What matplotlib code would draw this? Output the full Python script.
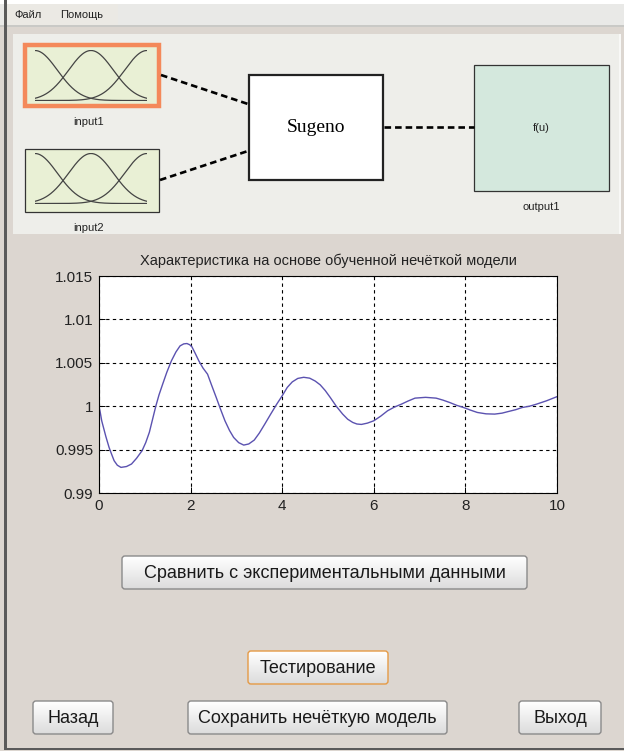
import numpy as np
import matplotlib
matplotlib.use("Agg")
import matplotlib.pyplot as plt
from matplotlib.patches import Rectangle, FancyBboxPatch

plt.rcParams['font.family'] = ['Liberation Sans', 'DejaVu Sans']

# curve
x_vals = [0, 0.03, 0.06, 0.1, 0.15, 0.22, 0.28, 0.33, 0.4, 0.48, 0.6, 0.71,
          0.82, 0.94, 1.02, 1.1, 1.17, 1.24, 1.31, 1.39, 1.48, 1.58, 1.68,
          1.77, 1.85, 1.92, 1.98, 2.03, 2.1, 2.18, 2.27, 2.37, 2.46, 2.56,
          2.65, 2.75, 2.85, 2.94, 3.05, 3.16, 3.27, 3.39, 3.5, 3.62, 3.75,
          3.88, 4.0, 4.11, 4.22, 4.34, 4.47, 4.6, 4.72, 4.83, 4.94, 5.05,
          5.18, 5.32, 5.43, 5.54, 5.63, 5.73, 5.86, 6.0, 6.15, 6.3, 6.45,
          6.6, 6.75, 6.9, 7.13, 7.36, 7.51, 7.66, 7.81, 7.96, 8.11, 8.26,
          8.45, 8.64, 8.8, 8.94, 9.1, 9.24, 9.4, 9.55, 9.77, 10]
y_vals = [1.0, 0.9992, 0.9983, 0.9975, 0.9965, 0.99525, 0.9944, 0.99372,
          0.9932, 0.99295, 0.99305, 0.99334, 0.9940, 0.99487, 0.9958, 0.9970,
          0.9985, 1.0, 1.0013, 1.00254, 1.0039, 1.00522, 1.00625, 1.00695,
          1.00718, 1.00722, 1.00708, 1.00683, 1.0061, 1.00522, 1.0044,
          1.00369, 1.0024, 1.001, 0.9997, 0.99832, 0.9972, 0.9964, 0.9958,
          0.99552, 0.99565, 0.9961, 0.9969, 0.99794, 0.9991, 1.00023, 1.0012,
          1.00216, 1.0028, 1.0032, 1.00333, 1.00323, 1.0029, 1.00246, 1.0018,
          1.001, 1.0, 0.99909, 0.9985, 0.99813, 0.99795, 0.9979, 0.99805,
          0.99832, 0.99885, 0.99947, 0.9999, 1.00023, 1.0006, 1.00093,
          1.00102, 1.00093, 1.0007, 1.00042, 1.0001, 0.99985, 0.99955,
          0.99928, 0.99912, 0.99909, 0.9992, 0.99939, 0.9996, 0.99985, 1.0,
          1.00023, 1.00062, 1.0011]
x_ticks = [0, 2, 4, 6, 8, 10]
y_ticks = [0.99, 0.995, 1.0, 1.005, 1.01, 1.015]
y_tick_labels = ['0.99', '0.995', '1', '1.005', '1.01', '1.015']
title = 'Характеристика на основе обученной нечёткой модели'

# membership function icons (gaussmf params on [0, 1])
mf_centers = [0.0, 0.5, 1.0]
mf_sigma = 0.2

menu_items = ['Файл', 'Помощь']
buttons = ['Сравнить с экспериментальными данными', 'Тестирование',
           'Назад', 'Сохранить нечёткую модель', 'Выход']

W, H = 624, 751
fig = plt.figure(figsize=(W / 100, H / 100), dpi=100)
fig.patch.set_facecolor('#dcd6d0')

# pixel-space canvas for the GUI parts
bg = fig.add_axes([0, 0, 1, 1])
bg.set_xlim(0, W)
bg.set_ylim(H, 0)
bg.axis('off')


def rect(x0, y0, x1, y1, **kw):
    r = Rectangle((x0, y0), x1 - x0, y1 - y0, **kw)
    bg.add_patch(r)
    return r


# window frame + menu
rect(0, 0, W, 4, facecolor='white', edgecolor='none')
rect(0, 4, W, 25, facecolor='#e9e9e7', edgecolor='none')
rect(7, 4, 118, 25, facecolor='#ebe9e4', edgecolor='none')
rect(0, 25, W, 26.5, facecolor='#c9c9c6', edgecolor='none')
rect(4, 0, 7, 749, facecolor='#5a5a5a', edgecolor='none', zorder=5)
rect(4, 748, W, 750, facecolor='#5a5a5a', edgecolor='none', zorder=5)
bg.text(14, 15, menu_items[0], fontsize=8, va='center', ha='left', color='#222222')
bg.text(60, 15, menu_items[1], fontsize=8, va='center', ha='left', color='#222222')

# FIS editor panel
rect(13, 34, 621, 234, facecolor='#eeeeea', edgecolor='none')
rect(619, 34, 621, 234, facecolor='#f8f8f6', edgecolor='none')

# connectors
dash = dict(color='black', lw=1.9, ls=(0, (2.5, 1.5)))
bg.plot([161, 248], [75, 104], **dash)
bg.plot([160, 248], [180, 151], **dash)
bg.plot([384, 474], [127, 127], **dash)

# input boxes
rect(25, 45, 159, 106, facecolor='#e9f0d5', edgecolor='#f4895a', lw=3.2)
rect(25, 149, 159, 212, facecolor='#e9f0d5', edgecolor='#333333', lw=0.9)
bg.text(89, 122, 'input1', fontsize=8, ha='center', va='center', color='#222222')
bg.text(89, 228, 'input2', fontsize=8, ha='center', va='center', color='#222222')

u = np.linspace(0, 1, 200)
for (x0, y0, x1, y1) in [(35, 50, 147, 101), (35, 153, 147, 204)]:
    mfax = fig.add_axes([x0 / W, 1 - y1 / H, (x1 - x0) / W, (y1 - y0) / H])
    for c in mf_centers:
        mfax.plot(u, np.exp(-(u - c) ** 2 / (2 * mf_sigma ** 2)), color='#444444', lw=0.9)
    mfax.set_xlim(0, 1)
    mfax.set_ylim(-0.01, 1.01)
    mfax.axis('off')

# Sugeno block
rect(249, 75, 383, 180, facecolor='white', edgecolor='#222222', lw=1.6)
bg.text(316, 128, 'Sugeno', fontsize=14, family='Liberation Serif',
        ha='center', va='center')

# output block
rect(474, 65, 609, 191, facecolor='#d4e8dd', edgecolor='#333333', lw=0.9)
bg.text(541, 128, 'f(u)', fontsize=8, ha='center', va='center', color='#222222')
bg.text(541, 207, 'output1', fontsize=8, ha='center', va='center', color='#222222')


# buttons
def button(x0, y0, x1, y1, label, edge='#8a8a8a', size=13):
    grad = np.linspace(1.0, 0.86, 50).reshape(-1, 1)
    im = bg.imshow(grad, extent=(x0, x1, y1, y0), cmap='gray', vmin=0, vmax=1,
                   aspect='auto', zorder=2)
    box = FancyBboxPatch((x0, y0), x1 - x0, y1 - y0,
                         boxstyle='round,pad=0,rounding_size=3',
                         facecolor='none', edgecolor=edge, lw=1.0, zorder=3)
    bg.add_patch(box)
    im.set_clip_path(box)
    bg.text((x0 + x1) / 2, (y0 + y1) / 2 + 1, label, fontsize=size,
            ha='center', va='center', color='#1a1a1a', zorder=4)


button(122, 556, 527, 589, buttons[0])
button(248, 651, 388, 684, buttons[1], edge='#e59a45')
button(33, 701, 113, 734, buttons[2])
button(188, 701, 447, 734, buttons[3])
button(519, 701, 601, 734, buttons[4])

bg.set_xlim(0, W)
bg.set_ylim(H, 0)

# the chart
ax = fig.add_axes([99 / W, 1 - 493 / H, 458 / W, 217 / H])
ax.plot(x_vals, y_vals, color='#5b52b0', lw=1.0)
ax.set_xlim(0, 10)
ax.set_ylim(0.99, 1.015)
ax.set_xticks(x_ticks)
ax.set_yticks(y_ticks)
ax.set_yticklabels(y_tick_labels)
ax.grid(True, color='black', lw=0.8, ls=(0, (3, 3)))
ax.tick_params(direction='in', length=4, width=0.7, labelsize=11, pad=4,
               labelcolor='#222222')
for s in ax.spines.values():
    s.set_linewidth(0.8)
ax.set_facecolor('white')
ax.set_title(title, fontsize=10.5, pad=8, color='#222222')

fig.savefig('out.png', dpi=100, facecolor=fig.get_facecolor())
